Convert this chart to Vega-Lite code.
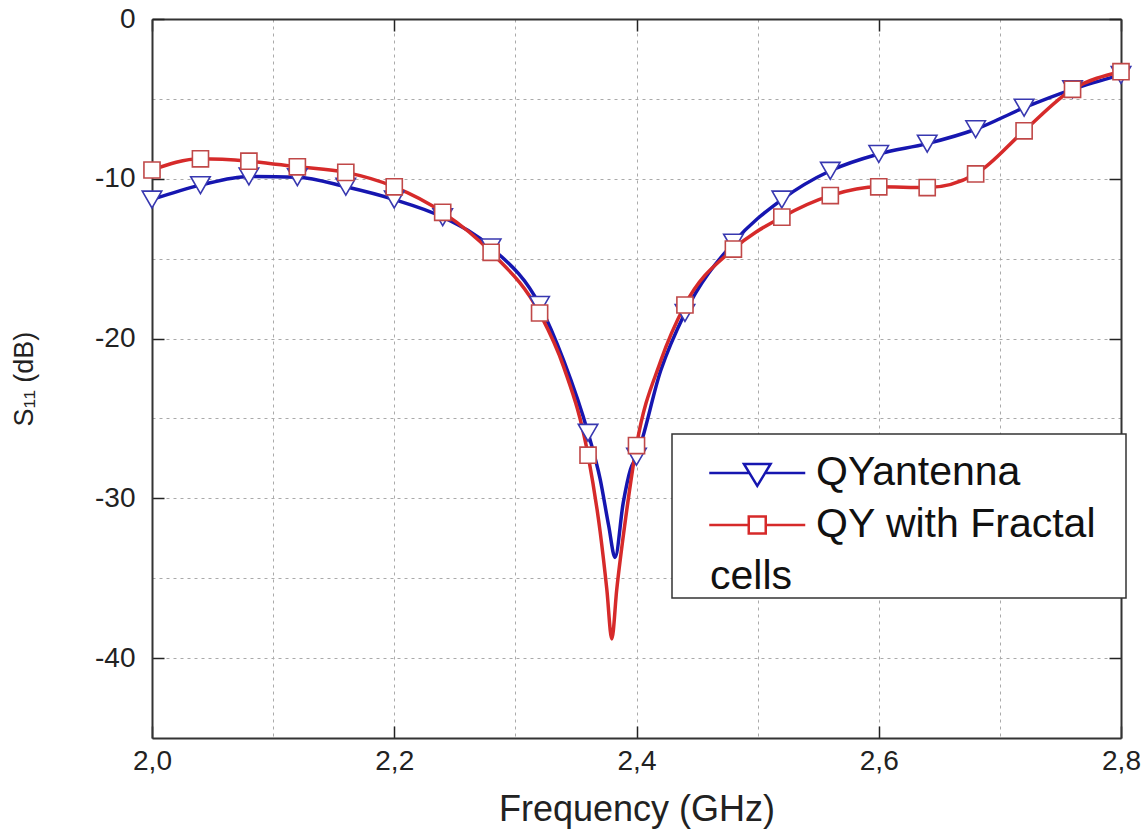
{
  "$schema": "https://vega.github.io/schema/vega-lite/v6.json",
  "width": 969,
  "height": 719,
  "autosize": "none",
  "padding": {"left": 152, "top": 19, "right": 25, "bottom": 102},
  "background": "white",
  "config": {"view": {"stroke": null}, "font": "Liberation Sans", "legend": {"strokeWidth": 1.5}},
  "data": {
    "values": [
      {"f": 2.00, "s11": -11.3, "series": "QYantenna", "marker": true},
      {"f": 2.04, "s11": -10.4, "series": "QYantenna", "marker": true},
      {"f": 2.08, "s11": -9.85, "series": "QYantenna", "marker": true},
      {"f": 2.12, "s11": -9.9, "series": "QYantenna", "marker": true},
      {"f": 2.16, "s11": -10.5, "series": "QYantenna", "marker": true},
      {"f": 2.20, "s11": -11.3, "series": "QYantenna", "marker": true},
      {"f": 2.24, "s11": -12.4, "series": "QYantenna", "marker": true},
      {"f": 2.28, "s11": -14.3, "series": "QYantenna", "marker": true},
      {"f": 2.32, "s11": -17.9, "series": "QYantenna", "marker": true},
      {"f": 2.34, "s11": -21.4, "series": "QYantenna", "marker": false},
      {"f": 2.36, "s11": -25.9, "series": "QYantenna", "marker": true},
      {"f": 2.37, "s11": -28.8, "series": "QYantenna", "marker": false},
      {"f": 2.377, "s11": -31.7, "series": "QYantenna", "marker": false},
      {"f": 2.3823, "s11": -33.7, "series": "QYantenna", "marker": false},
      {"f": 2.389, "s11": -30.3, "series": "QYantenna", "marker": false},
      {"f": 2.395, "s11": -28.2, "series": "QYantenna", "marker": false},
      {"f": 2.40, "s11": -27.4, "series": "QYantenna", "marker": true},
      {"f": 2.42, "s11": -22.0, "series": "QYantenna", "marker": false},
      {"f": 2.44, "s11": -18.4, "series": "QYantenna", "marker": true},
      {"f": 2.48, "s11": -14.0, "series": "QYantenna", "marker": true},
      {"f": 2.52, "s11": -11.3, "series": "QYantenna", "marker": true},
      {"f": 2.56, "s11": -9.5, "series": "QYantenna", "marker": true},
      {"f": 2.60, "s11": -8.45, "series": "QYantenna", "marker": true},
      {"f": 2.64, "s11": -7.8, "series": "QYantenna", "marker": true},
      {"f": 2.68, "s11": -6.9, "series": "QYantenna", "marker": true},
      {"f": 2.72, "s11": -5.55, "series": "QYantenna", "marker": true},
      {"f": 2.76, "s11": -4.4, "series": "QYantenna", "marker": true},
      {"f": 2.80, "s11": -3.5, "series": "QYantenna", "marker": true},
      {"f": 2.00, "s11": -9.45, "series": "QY with Fractal cells", "marker": true},
      {"f": 2.04, "s11": -8.75, "series": "QY with Fractal cells", "marker": true},
      {"f": 2.08, "s11": -8.9, "series": "QY with Fractal cells", "marker": true},
      {"f": 2.12, "s11": -9.25, "series": "QY with Fractal cells", "marker": true},
      {"f": 2.16, "s11": -9.6, "series": "QY with Fractal cells", "marker": true},
      {"f": 2.20, "s11": -10.5, "series": "QY with Fractal cells", "marker": true},
      {"f": 2.24, "s11": -12.1, "series": "QY with Fractal cells", "marker": true},
      {"f": 2.28, "s11": -14.6, "series": "QY with Fractal cells", "marker": true},
      {"f": 2.32, "s11": -18.4, "series": "QY with Fractal cells", "marker": true},
      {"f": 2.34, "s11": -21.8, "series": "QY with Fractal cells", "marker": false},
      {"f": 2.36, "s11": -27.3, "series": "QY with Fractal cells", "marker": true},
      {"f": 2.37, "s11": -32.1, "series": "QY with Fractal cells", "marker": false},
      {"f": 2.3755, "s11": -35.7, "series": "QY with Fractal cells", "marker": false},
      {"f": 2.3796, "s11": -38.8, "series": "QY with Fractal cells", "marker": false},
      {"f": 2.3837, "s11": -35.7, "series": "QY with Fractal cells", "marker": false},
      {"f": 2.3906, "s11": -31.5, "series": "QY with Fractal cells", "marker": false},
      {"f": 2.40, "s11": -26.7, "series": "QY with Fractal cells", "marker": true},
      {"f": 2.42, "s11": -21.4, "series": "QY with Fractal cells", "marker": false},
      {"f": 2.44, "s11": -17.9, "series": "QY with Fractal cells", "marker": true},
      {"f": 2.48, "s11": -14.4, "series": "QY with Fractal cells", "marker": true},
      {"f": 2.52, "s11": -12.4, "series": "QY with Fractal cells", "marker": true},
      {"f": 2.56, "s11": -11.05, "series": "QY with Fractal cells", "marker": true},
      {"f": 2.60, "s11": -10.5, "series": "QY with Fractal cells", "marker": true},
      {"f": 2.64, "s11": -10.55, "series": "QY with Fractal cells", "marker": true},
      {"f": 2.68, "s11": -9.7, "series": "QY with Fractal cells", "marker": true},
      {"f": 2.72, "s11": -7.0, "series": "QY with Fractal cells", "marker": true},
      {"f": 2.76, "s11": -4.4, "series": "QY with Fractal cells", "marker": true},
      {"f": 2.80, "s11": -3.3, "series": "QY with Fractal cells", "marker": true}
    ]
  },
  "layer": [
    {
      "mark": {"type": "line", "interpolate": "monotone", "strokeWidth": 3.5},
      "encoding": {
        "x": {
          "field": "f", "type": "quantitative",
          "scale": {"domain": [2.0, 2.8], "nice": false, "zero": false},
          "axis": {
            "orient": "bottom",
            "values": [2.0, 2.1, 2.2, 2.3, 2.4, 2.5, 2.6, 2.7, 2.8],
            "title": "Frequency (GHz)",
            "titleFont": "Liberation Sans", "titleFontSize": 36, "titleFontWeight": "normal", "titleColor": "#222",
            "titlePadding": 17,
            "labelFont": "Liberation Sans", "labelFontSize": 28, "labelColor": "#222",
            "labelExpr": "round(datum.value*10) % 2 == 0 ? replace(format(datum.value, '.1f'), '.', ',') : ''",
            "labelOverlap": false, "labelFlush": false,
            "labelPadding": 21,
            "tickSize": -12, "tickColor": "#222", "tickWidth": 1.5,
            "tickOpacity": {"condition": {"test": "round(datum.value*10) % 2 != 0", "value": 0}, "value": 1},
            "grid": true, "gridDash": [3, 4], "gridColor": "#aaaaaa", "gridWidth": 1,
            "domain": true, "domainColor": "#333", "domainWidth": 2
          }
        },
        "y": {
          "field": "s11", "type": "quantitative",
          "scale": {"domain": [-45, 0], "nice": false, "zero": false},
          "axis": {
            "orient": "left",
            "values": [-40, -35, -30, -25, -20, -15, -10, -5, 0],
            "title": "S₁₁ (dB)",
            "titleFont": "Liberation Sans", "titleFontSize": 27, "titleFontWeight": "normal", "titleColor": "#222",
            "titlePadding": 56,
            "labelFont": "Liberation Sans", "labelFontSize": 28, "labelColor": "#222",
            "labelExpr": "datum.value % 10 == 0 ? '' + datum.value : ''",
            "labelOverlap": false, "labelFlush": false,
            "labelPadding": 29,
            "tickSize": -12, "tickColor": "#222", "tickWidth": 1.5,
            "tickOpacity": {"condition": {"test": "datum.value % 10 != 0", "value": 0}, "value": 1},
            "grid": true, "gridDash": [3, 4], "gridColor": "#aaaaaa", "gridWidth": 1,
            "domain": true, "domainColor": "#333", "domainWidth": 2
          }
        },
        "color": {
          "field": "series", "type": "nominal",
          "scale": {"domain": ["QYantenna", "QY with Fractal cells", "cells"], "range": ["#1616b0", "#d62a2a", "#ffffff"]},
          "legend": {
            "orient": "none", "legendX": 520, "legendY": 415,
            "title": "\u00a0", "titleFontSize": 6, "titlePadding": 6.5,
            "direction": "vertical",
            "fillColor": "white", "strokeColor": "#333",
            "padding": 1,
            "labelFont": "Liberation Sans", "labelFontSize": 41, "labelColor": "#111",
            "labelExpr": "datum.value == 'QY with Fractal cells' ? 'QY with Fractal' : datum.label",
            "labelLimit": 700, "labelOffset": 92,
            "symbolSize": 2304, "symbolStrokeWidth": 2.5,
            "rowPadding": 6,
            "encode": {
              "symbols": {
                "update": {
                  "shape": {"signal": "datum.value == 'QYantenna' ? 'M0.448,0H2.121M2.775,0H4.448M1.893,-0.375L3.003,-0.375L2.448,0.54Z' : (datum.value == 'cells' ? 'M0,0H0.01M17.75,0' : 'M0.448,0H2.094M2.802,0H4.448M2.094,-0.354H2.802V0.354H2.094Z')"},
                  "fill": {"value": "white"},
                  "opacity": {"signal": "datum.value == 'cells' ? 0 : 1"}
                }
              },
              "labels": {
                "update": {"dx": {"signal": "datum.value == 'cells' ? -106 : 0"}}
              }
            }
          }
        }
      }
    },
    {
      "transform": [{"filter": "datum.marker"}],
      "mark": {"type": "point", "filled": false, "fill": "white", "fillOpacity": 1, "opacity": 1, "strokeWidth": 1.6},
      "encoding": {
        "x": {
          "field": "f", "type": "quantitative",
          "axis": {"orient": "top", "values": [2.0, 2.2, 2.4, 2.6, 2.8], "labels": false, "title": null, "grid": false,
                   "tickSize": -12, "tickColor": "#222", "tickWidth": 1.5, "domain": true, "domainColor": "#333", "domainWidth": 2}
        },
        "y": {
          "field": "s11", "type": "quantitative",
          "axis": {"orient": "right", "values": [-40, -30, -20, -10, 0], "labels": false, "title": null, "grid": false,
                   "tickSize": -12, "tickColor": "#222", "tickWidth": 1.5, "domain": true, "domainColor": "#333", "domainWidth": 2}
        },
        "stroke": {
          "field": "series", "type": "nominal",
          "scale": {"domain": ["QYantenna", "QY with Fractal cells"], "range": ["#3838b0", "#c04848"]},
          "legend": null
        },
        "shape": {
          "field": "series", "type": "nominal",
          "scale": {"domain": ["QYantenna", "QY with Fractal cells"], "range": ["triangle-down", "square"]},
          "legend": null
        },
        "size": {"condition": {"test": "datum.series == 'QYantenna'", "value": 380}, "value": 260}
      }
    }
  ]
}
